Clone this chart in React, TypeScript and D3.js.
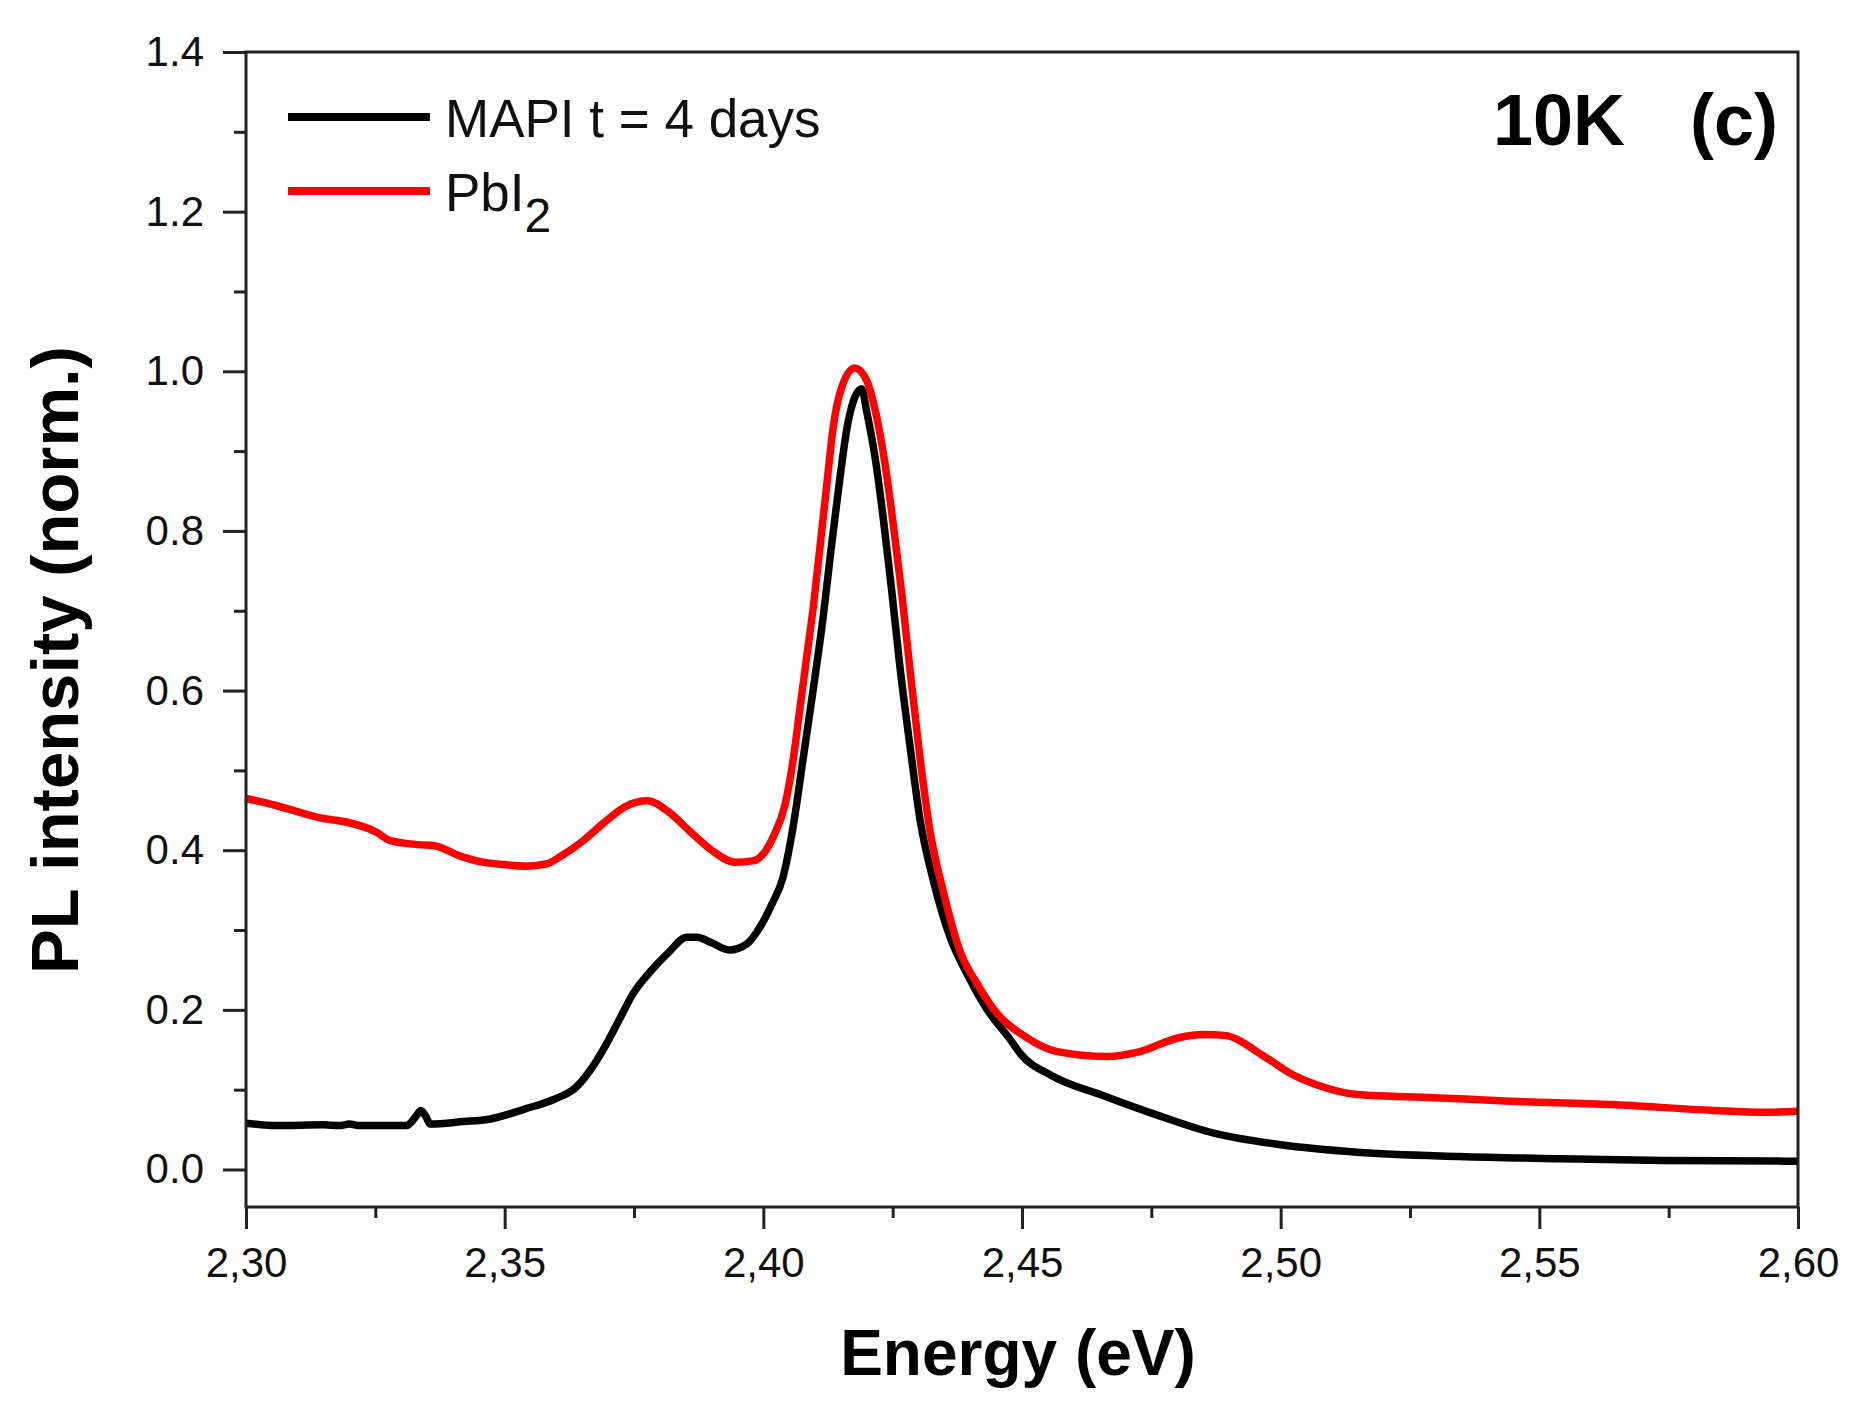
import { useEffect, useRef } from 'react';
import * as d3 from 'd3';

// MAPI t = 4 days (black)
const mapiEnergy = [
  2.3, 2.306, 2.315, 2.318, 2.32, 2.322, 2.331, 2.3328, 2.3338, 2.3348, 2.3356, 2.342, 2.347, 2.354,
  2.3596, 2.3638, 2.3665, 2.3693, 2.3721, 2.3748, 2.3783, 2.3817, 2.3852, 2.3872, 2.39, 2.3934, 2.3969,
  2.399, 2.4017, 2.4038, 2.4058, 2.4077, 2.4097, 2.4116, 2.4132, 2.4148, 2.4164, 2.419, 2.42, 2.4216,
  2.4232, 2.4248, 2.4264, 2.4284, 2.4303, 2.4329, 2.4361, 2.4393, 2.4432, 2.4477, 2.4497, 2.4556,
  2.4655, 2.4753, 2.4871, 2.5, 2.5148, 2.5345, 2.5542, 2.5739, 2.6,
];
const mapiIntensity = [
  0.058, 0.055, 0.056, 0.055, 0.057, 0.055, 0.055, 0.066, 0.074, 0.066, 0.057, 0.06, 0.063, 0.076,
  0.088, 0.103, 0.124, 0.153, 0.187, 0.22, 0.249, 0.272, 0.291, 0.291, 0.284, 0.275, 0.283,
  0.3, 0.333, 0.366, 0.431, 0.515, 0.604, 0.694, 0.783, 0.866, 0.937, 0.978, 0.949, 0.892,
  0.815, 0.726, 0.63, 0.528, 0.438, 0.361, 0.291, 0.246, 0.201, 0.163, 0.145, 0.118,
  0.093, 0.07, 0.0455, 0.031, 0.0217, 0.0163, 0.0134, 0.0113, 0.0104,
];

// PbI2 (red)
const pbiEnergy = [
  2.3, 2.3058, 2.3147, 2.3196, 2.3251, 2.3279, 2.3334, 2.3362, 2.3417, 2.3458, 2.3499, 2.3541, 2.3582,
  2.361, 2.3652, 2.3693, 2.3734, 2.3776, 2.3817, 2.3859, 2.39, 2.3945, 2.3982, 2.4003, 2.402, 2.4042,
  2.4058, 2.4071, 2.4084, 2.4097, 2.411, 2.4123, 2.4135, 2.4152, 2.4177, 2.42, 2.4219, 2.4235, 2.4251,
  2.4268, 2.4284, 2.4303, 2.4322, 2.4348, 2.4381, 2.4413, 2.4445, 2.4507, 2.4566, 2.4664, 2.4724,
  2.4803, 2.4852, 2.4891, 2.497, 2.502, 2.5068, 2.5148, 2.5296, 2.5443, 2.564, 2.5837, 2.5936, 2.6,
];
const pbiIntensity = [
  0.465, 0.456, 0.44, 0.435, 0.423, 0.412, 0.407, 0.406, 0.392, 0.385, 0.382, 0.38, 0.383,
  0.393, 0.412, 0.435, 0.455, 0.462, 0.448, 0.423, 0.4, 0.385, 0.387, 0.398, 0.418, 0.457,
  0.515, 0.579, 0.643, 0.707, 0.783, 0.86, 0.93, 0.981, 1.004, 0.988, 0.943, 0.885, 0.809,
  0.719, 0.623, 0.515, 0.425, 0.348, 0.272, 0.233, 0.201, 0.166, 0.148, 0.1416, 0.147,
  0.165, 0.169, 0.168, 0.141, 0.12, 0.1065, 0.094, 0.09, 0.0856, 0.0814, 0.074, 0.0718, 0.073,
];

const xMajorTicks = [2.3, 2.35, 2.4, 2.45, 2.5, 2.55, 2.6];
const xMinorTicks = [2.325, 2.375, 2.425, 2.475, 2.525, 2.575];
const yMajorTicks = [0, 0.2, 0.4, 0.6, 0.8, 1.0, 1.2, 1.4];
const yMinorTicks = [0.1, 0.3, 0.5, 0.7, 0.9, 1.1, 1.3];

const series = [
  { label: 'MAPI t = 4 days', color: '#000000', energy: mapiEnergy, intensity: mapiIntensity },
  { label: 'PbI2', color: '#ff0000', energy: pbiEnergy, intensity: pbiIntensity },
];

const FONT = '"Liberation Sans", Arial, sans-serif';

export default function App() {
  const ref = useRef<SVGSVGElement | null>(null);
  const width = 1864;
  const height = 1410;
  const left = 246;
  const right = 1798;
  const top = 52;
  const bottom = 1207;

  useEffect(() => {
    if (!ref.current) return;
    const root = d3.select(ref.current);
    root.selectAll('*').remove();

    const x = d3.scaleLinear().domain([2.3, 2.6]).range([left, right]);
    const y = d3.scaleLinear().domain([-0.047, 1.4]).range([bottom, top]);

    root.append('rect').attr('width', width).attr('height', height).attr('fill', '#fff');

    root
      .append('defs')
      .append('clipPath')
      .attr('id', 'plot-clip')
      .append('rect')
      .attr('x', left)
      .attr('y', top)
      .attr('width', right - left)
      .attr('height', bottom - top);

    // curves
    const line = d3
      .line<[number, number]>()
      .x((d) => x(d[0]))
      .y((d) => y(d[1]))
      .curve(d3.curveMonotoneX);

    const curves = root.append('g').attr('clip-path', 'url(#plot-clip)');
    series.forEach((s) => {
      const pts = s.energy.map((e, i) => [e, s.intensity[i]] as [number, number]);
      curves
        .append('path')
        .attr('d', line(pts))
        .attr('fill', 'none')
        .attr('stroke', s.color)
        .attr('stroke-width', 7.5)
        .attr('stroke-linejoin', 'round');
    });

    // frame
    root
      .append('rect')
      .attr('x', left)
      .attr('y', top)
      .attr('width', right - left)
      .attr('height', bottom - top)
      .attr('fill', 'none')
      .attr('stroke', '#222')
      .attr('stroke-width', 3);

    const styleAxis = (g: d3.Selection<SVGGElement, unknown, null, undefined>) => {
      g.select('.domain').remove();
      g.selectAll('line').attr('stroke', '#222').attr('stroke-width', 3);
      g.selectAll('text')
        .attr('fill', '#111')
        .style('font-family', FONT)
        .style('font-size', '42px');
    };

    const xAxis = root
      .append('g')
      .attr('transform', `translate(0,${bottom})`)
      .call(
        d3
          .axisBottom(x)
          .tickValues(xMajorTicks)
          .tickSize(22)
          .tickPadding(18)
          .tickFormat((d) => d3.format('.2f')(d as number).replace('.', ','))
      );
    styleAxis(xAxis);

    const xMinor = root
      .append('g')
      .attr('transform', `translate(0,${bottom})`)
      .call(d3.axisBottom(x).tickValues(xMinorTicks).tickSize(11).tickFormat(() => ''));
    styleAxis(xMinor);

    const yAxis = root
      .append('g')
      .attr('transform', `translate(${left},0)`)
      .call(
        d3
          .axisLeft(y)
          .tickValues(yMajorTicks)
          .tickSize(23)
          .tickPadding(19)
          .tickFormat((d) => d3.format('.1f')(d as number))
      );
    styleAxis(yAxis);

    const yMinor = root
      .append('g')
      .attr('transform', `translate(${left},0)`)
      .call(d3.axisLeft(y).tickValues(yMinorTicks).tickSize(12).tickFormat(() => ''));
    styleAxis(yMinor);

    // axis titles
    root
      .append('text')
      .attr('x', 1018)
      .attr('y', 1375)
      .attr('text-anchor', 'middle')
      .style('font-family', FONT)
      .style('font-weight', 'bold')
      .style('font-size', '64px')
      .text('Energy (eV)');

    root
      .append('text')
      .attr('transform', 'translate(78,660) rotate(-90)')
      .attr('text-anchor', 'middle')
      .style('font-family', FONT)
      .style('font-weight', 'bold')
      .style('font-size', '67px')
      .text('PL intensity (norm.)');

    // legend
    const legend = root.append('g');
    series.forEach((s, i) => {
      const ly = 117 + i * 74;
      legend
        .append('line')
        .attr('x1', 288)
        .attr('x2', 430)
        .attr('y1', ly)
        .attr('y2', ly)
        .attr('stroke', s.color)
        .attr('stroke-width', 8);
      const t = legend
        .append('text')
        .attr('x', 445)
        .attr('y', ly + 20)
        .style('font-family', FONT)
        .style('font-size', '53px')
        .attr('fill', '#111');
      if (s.label === 'PbI2') {
        t.append('tspan').text('PbI');
        t.append('tspan').attr('dy', 21).style('font-size', '48px').text('2');
      } else {
        t.text(s.label);
      }
    });

    // panel labels
    root
      .append('text')
      .attr('x', 1493)
      .attr('y', 145)
      .style('font-family', FONT)
      .style('font-weight', 'bold')
      .style('font-size', '72px')
      .text('10K');
    root
      .append('text')
      .attr('x', 1690)
      .attr('y', 145)
      .style('font-family', FONT)
      .style('font-weight', 'bold')
      .style('font-size', '72px')
      .text('(c)');
  }, []);

  return (
    <svg
      ref={ref}
      width={width}
      height={height}
      style={{ display: 'block', position: 'absolute', left: 0, top: 0 }}
    />
  );
}
